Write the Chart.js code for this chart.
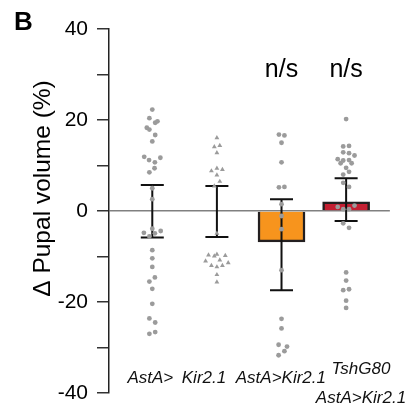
<!DOCTYPE html>
<html>
<head>
<meta charset="utf-8">
<script src="https://cdn.jsdelivr.net/npm/chart.js@4/dist/chart.umd.min.js"></script>
<style>
  html, body { margin: 0; padding: 0; background: #fff; }
  #wrap { width: 417px; height: 418px; position: relative; }
</style>
</head>
<body>
<div id="wrap"><canvas id="pupalChart"></canvas></div>
<script>
const groupLabels = ['AstA>', 'Kir2.1', 'AstA>Kir2.1', ['TshG80', 'AstA>Kir2.1']];
const groupMeans = [null, null, -6.8, 2.0];
const errHigh = [5.7, 5.5, 2.6, 7.2];
const errLow = [-5.8, -5.7, -17.4, -2.2];
const sigLabels = ['', '', 'n/s', 'n/s'];
const yTickLabels = [-40, -20, 0, 20, 40];

// individual pupae, y = % change, dx = horizontal jitter in group units
const astaY = [22.3, 20.4, 19.4, 19.7, 18.3, 17.9, 16.7, 15.3, 11.9, 11.7, 11.2, 10.7, 9.4, 8.5, 5.0, 2.6,
  -3.9, -4.8, -5.6, -4.9, -4.4, -8.6, -10.4, -12.3, -15.5, -14.6, -17.1, -20.4, -23.6, -24.5, -27.0, -26.6];
const astaDx = [0, -0.045, 0.045, 0.08, -0.085, -0.045, 0.045, 0, -0.125, 0.125, -0.05, 0.04, 0.035, -0.045, 0, 0,
  0, -0.13, -0.045, 0.04, 0.13, 0, 0, 0, -0.045, 0.04, 0, 0, -0.045, 0.045, -0.045, 0.045];

const kirY = [16.1, 14.1, 14.4, 12.8, 8.8, 9.4, 9.1, 7.9, 6.5, 5.5, -4.9, -9.7, -9.9, -9.5, -9.8,
  -11.0, -10.8, -11.4, -12.0, -12.3, -12.0, -14.0, -15.6];
const kirDx = [0, -0.04, 0.045, 0, -0.085, 0, 0.085, 0, 0.045, -0.04, 0, -0.13, -0.04, 0, 0.13,
  -0.175, 0.045, 0.175, -0.085, 0, 0.085, 0, 0];

const astaKirY = [16.8, 16.6, 15.0, 10.7, 5.2, 5.3, 1.5, -1.1, -4.0, -13.0, -23.7, -25.8, -29.4, -29.8, -30.8, -31.7];
const astaKirDx = [-0.04, 0.045, 0, 0, -0.04, 0.045, 0, 0, 0, 0, 0, 0, -0.045, 0.085, 0.045, -0.045];

const tshY = [20.2, 14.2, 14.3, 12.9, 12.7, 12.2, 11.4, 11.1, 11.2, 10.5, 10.5, 9.5, 8.6, 8.0, 6.2, 5.3,
  0.9, 1.2, 0.4, 0.4, -2.7, -3.7, -13.5, -15.3, -17.4, -17.2, -19.7, -21.3];
const tshDx = [0, -0.045, 0.045, -0.045, 0.045, 0.13, -0.13, -0.045, 0.045, -0.085, 0.085, 0, 0.045, -0.045, -0.045, 0.045,
  -0.13, 0.13, -0.045, 0.045, -0.045, 0.045, 0, 0, -0.045, 0.045, 0, 0];

const sans = '"Liberation Sans", Arial, Helvetica, sans-serif';
const dotColor = '#9b9b9b';
// the genotype names are not centred on their columns in the figure
const labelSpots = [0.97, 1.8, 2.99, 4.23];

function toPoints(group, ys, dxs) {
  return ys.map((y, i) => ({ x: group + dxs[i], y: y }));
}

function dotSet(group, ys, dxs, style) {
  return {
    type: 'scatter',
    data: toPoints(group, ys, dxs),
    pointStyle: style,
    pointRadius: style === 'triangle' ? 2.8 : 2.4,
    pointBackgroundColor: dotColor,
    pointBorderWidth: 0,
    order: 1
  };
}

// error bars go on top of the bars but under the dots
const errorBars = {
  id: 'errorBars',
  afterDatasetDraw(chart, args) {
    if (args.index !== 0) return;
    const { ctx, scales: { x, y } } = chart;
    ctx.save();
    ctx.strokeStyle = '#111';
    ctx.lineWidth = 2;
    errHigh.forEach((hi, i) => {
      const px = x.getPixelForValue(i + 1);
      const top = y.getPixelForValue(hi);
      const bot = y.getPixelForValue(errLow[i]);
      ctx.beginPath();
      ctx.moveTo(px, top); ctx.lineTo(px, bot);
      ctx.moveTo(px - 11.5, top); ctx.lineTo(px + 11.5, top);
      ctx.moveTo(px - 11.5, bot); ctx.lineTo(px + 11.5, bot);
      ctx.stroke();
    });
    ctx.restore();
  }
};

const extraText = {
  id: 'extraText',
  afterDraw(chart) {
    const { ctx, scales: { x } } = chart;
    ctx.save();
    ctx.fillStyle = '#000';
    ctx.font = 'bold 26px ' + sans;
    ctx.textAlign = 'left';
    ctx.textBaseline = 'alphabetic';
    ctx.fillText('B', 14, 30);

    ctx.font = '25px ' + sans;
    ctx.textAlign = 'center';
    sigLabels.forEach((s, i) => {
      if (s) ctx.fillText(s, x.getPixelForValue(i + 1), 77);
    });

    ctx.font = '24.5px ' + sans;
    ctx.translate(50, 188.5);
    ctx.rotate(-Math.PI / 2);
    ctx.fillText('\u0394 Pupal volume (%)', 0, 0);
    ctx.restore();
  }
};

new Chart(document.getElementById('pupalChart'), {
  type: 'bar',
  data: {
    datasets: [
      {
        type: 'bar',
        data: groupMeans.map((m, i) => ({ x: i + 1, y: m })),
        backgroundColor: ['#f7941d', '#f7941d', '#f7941d', '#c41f32'],
        borderColor: '#231f20',
        borderWidth: 2.5,
        barThickness: 47,
        order: 2
      },
      dotSet(1, astaY, astaDx, 'circle'),
      dotSet(2, kirY, kirDx, 'triangle'),
      dotSet(3, astaKirY, astaKirDx, 'circle'),
      dotSet(4, tshY, tshDx, 'circle')
    ]
  },
  options: {
    responsive: true,
    maintainAspectRatio: false,
    animation: false,
    layout: { padding: { top: 29, right: 16, bottom: 0, left: 0 } },
    plugins: {
      legend: { display: false },
      tooltip: { enabled: false }
    },
    scales: {
      x: {
        type: 'linear',
        min: 0.33,
        max: 4.677,
        offset: false,
        grid: { display: false },
        border: { display: false },
        afterBuildTicks: (axis) => {
          axis.ticks = labelSpots.map((v) => ({ value: v }));
        },
        afterFit: (scale) => { scale.height = 25; },
        ticks: {
          autoSkip: false,
          maxRotation: 0,
          minRotation: 0,
          mirror: true,
          crossAlign: 'near',
          padding: 9.25,
          color: '#111',
          // the two-line label keeps a normal line gap; single lines sit a bit higher
          font: (c) => ({
            family: sans,
            size: 17,
            style: 'italic',
            lineHeight: c.index === 3 ? 1.68 : 0.68
          }),
          callback: (value, index) => groupLabels[index]
        }
      },
      y: {
        min: -40,
        max: 40,
        afterFit: (scale) => { scale.width = 109; },
        border: { display: true, color: '#222', width: 1.5 },
        grid: {
          color: (c) => (c.tick && c.tick.value === 0 ? '#808080' : 'rgba(0,0,0,0)'),
          lineWidth: 1.5,
          tickColor: '#333',
          tickLength: 12
        },
        ticks: {
          stepSize: 10,
          padding: 9,
          color: '#000',
          font: { family: sans, size: 21 },
          callback: (v) => (yTickLabels.includes(v) ? v : '')
        }
      }
    }
  },
  plugins: [errorBars, extraText]
});
</script>
</body>
</html>
